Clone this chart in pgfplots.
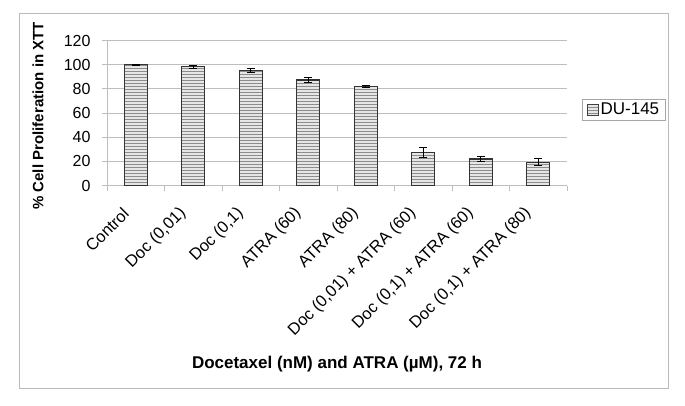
\documentclass[border=0pt]{standalone}
\usepackage{fontspec}
\setmainfont{Liberation Sans}
\usepackage{pgfplots}
\pgfplotsset{compat=1.18}
\usetikzlibrary{patterns}
\definecolor{gridc}{HTML}{BDBDBD}
\definecolor{barfill}{HTML}{E6E6E6}
\definecolor{hatch}{HTML}{8C8C8C}
\begin{document}
\begin{tikzpicture}[x=1pt,y=1pt]
\path[use as bounding box] (0,0) rectangle (685,405);
\draw[gray!55, line width=1pt] (19,17) rectangle (668,391);
\begin{axis}[
  at={(107pt,219.5pt)}, anchor=south west,
  scale only axis, width=460pt, height=145pt,
  xmin=-0.5, xmax=7.5, ymin=0, ymax=120,
  axis lines*=left,
  axis line style={gridc, line width=0.8pt},
  ytick={0,20,...,120},
  ymajorgrids, grid style={gridc, line width=0.8pt},
  tick align=outside,
  major tick length=5pt,
  tick style={gridc, line width=0.8pt},
  xtick={-0.5,0.5,...,7.5},
  xticklabels={},
  extra x ticks={0,...,7},
  extra x tick labels={Control, {Doc (0,01)}, {Doc (0,1)}, {ATRA (60)}, {ATRA (80)}, {Doc (0,01) + ATRA (60)}, {Doc (0,1) + ATRA (60)}, {Doc (0,1) + ATRA (80)}},
  extra x tick style={major tick length=0pt, grid=none,
    xticklabel style={rotate=45, anchor=east, yshift=-11pt, xshift=-21.5pt, font=\fontsize{16.5}{18}\selectfont}},
  yticklabel style={font=\fontsize{16}{18}\selectfont, xshift=-8pt},
  /pgf/number format/assume math mode=true,
  ylabel={\bfseries\% Cell Proliferation in XTT},
  ylabel style={at={(axis description cs:-0.150,0.48)}, anchor=center, font=\fontsize{15}{18}\selectfont},
  xlabel={\bfseries Docetaxel (nM) and ATRA (µM), 72 h},
  xlabel style={at={(axis description cs:0.5,-1.235)}, anchor=center, font=\fontsize{17}{19}\selectfont},
  legend style={at={(axis description cs:1.2152,0.522)}, anchor=east, draw=gray!70, line width=0.6pt,
    font=\fontsize{17}{19}\selectfont, inner xsep=4.5pt, inner ysep=1.5pt},
  ybar, bar width=23pt,
]
\addplot[draw=black!80, line width=1.2pt, fill=barfill,
  postaction={pattern=horizontal lines, pattern color=hatch},
  legend image code/.code={\draw[draw=black!75, line width=0.8pt, fill=barfill,
    postaction={pattern=horizontal lines, pattern color=hatch}] (0pt,-5.5pt) rectangle (11pt,5.5pt);},
  error bars/.cd, y dir=both, y explicit,
  error bar style={black, line width=1pt},
  error mark options={rotate=90, mark size=4pt, line width=1pt, black}]
table[x=x, y=y, y error=e] {
x y e
0 100 0.3
1 98.2 1.2
2 95.5 1.6
3 87.3 2.2
4 81.8 1.0
5 27.2 4.0
6 22.0 1.8
7 19.2 2.9
};
\legend{DU-145}
\end{axis}
\end{tikzpicture}
\end{document}
